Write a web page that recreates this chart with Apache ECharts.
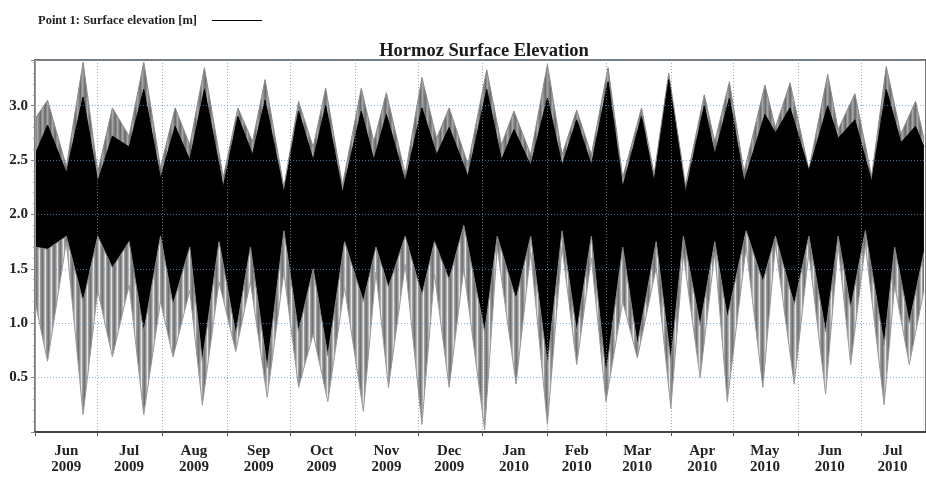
<!DOCTYPE html>
<html>
<head>
<meta charset="utf-8">
<script src="https://cdn.jsdelivr.net/npm/echarts@6/dist/echarts.min.js"></script>
<style>
  html, body { margin: 0; padding: 0; background: #fff; }
  #chart { width: 926px; height: 479px; }
</style>
</head>
<body>
<div id="chart"></div>
<script>
// envelope of the surface elevation record (m)
const upperDates = ['2009-06-01','2009-06-07','2009-06-16','2009-06-24','2009-07-01','2009-07-08','2009-07-16','2009-07-23','2009-07-31','2009-08-07','2009-08-14','2009-08-21','2009-08-30','2009-09-06','2009-09-13','2009-09-19','2009-09-28','2009-10-05','2009-10-12','2009-10-18','2009-10-26','2009-11-04','2009-11-10','2009-11-16','2009-11-25','2009-12-03','2009-12-10','2009-12-16','2009-12-25','2010-01-03','2010-01-10','2010-01-16','2010-01-24','2010-02-01','2010-02-08','2010-02-15','2010-02-22','2010-03-02','2010-03-09','2010-03-18','2010-03-24','2010-03-31','2010-04-08','2010-04-17','2010-04-22','2010-04-29','2010-05-06','2010-05-16','2010-05-21','2010-05-28','2010-06-06','2010-06-15','2010-06-20','2010-06-28','2010-07-06','2010-07-13','2010-07-20','2010-07-27','2010-07-31'];
const upperOuter = [2.88,3.05,2.44,3.40,2.39,2.98,2.72,3.40,2.43,2.98,2.64,3.35,2.34,2.98,2.67,3.24,2.25,3.04,2.62,3.16,2.27,3.16,2.67,3.12,2.37,3.26,2.70,2.98,2.46,3.33,2.64,2.95,2.55,3.38,2.55,2.96,2.55,3.35,2.34,2.98,2.37,3.30,2.27,3.10,2.67,3.22,2.39,3.19,2.80,3.21,2.41,3.29,2.78,3.11,2.35,3.36,2.74,3.04,2.70];
const upperInner = [2.55,2.82,2.38,3.08,2.30,2.72,2.62,3.15,2.33,2.81,2.50,3.15,2.25,2.90,2.55,3.05,2.20,2.95,2.50,3.00,2.20,2.95,2.50,2.92,2.30,2.98,2.55,2.80,2.35,3.15,2.50,2.78,2.45,3.07,2.45,2.87,2.45,3.22,2.25,2.90,2.30,3.24,2.20,3.00,2.55,3.07,2.30,2.92,2.75,2.98,2.40,3.00,2.70,2.87,2.30,3.15,2.66,2.81,2.62];

const lowerDates = ['2009-06-01','2009-06-07','2009-06-16','2009-06-24','2009-07-01','2009-07-08','2009-07-16','2009-07-23','2009-07-31','2009-08-06','2009-08-14','2009-08-20','2009-08-28','2009-09-05','2009-09-12','2009-09-20','2009-09-28','2009-10-05','2009-10-12','2009-10-19','2009-10-27','2009-11-05','2009-11-11','2009-11-17','2009-11-25','2009-12-03','2009-12-09','2009-12-16','2009-12-23','2010-01-02','2010-01-08','2010-01-17','2010-01-24','2010-02-01','2010-02-08','2010-02-15','2010-02-22','2010-03-01','2010-03-09','2010-03-16','2010-03-25','2010-04-01','2010-04-07','2010-04-15','2010-04-22','2010-04-28','2010-05-07','2010-05-15','2010-05-21','2010-05-30','2010-06-06','2010-06-14','2010-06-20','2010-06-26','2010-07-03','2010-07-12','2010-07-17','2010-07-24','2010-07-31'];
const lowerOuter = [1.20,0.65,1.75,0.16,1.30,0.69,1.35,0.16,1.20,0.69,1.30,0.25,1.38,0.74,1.38,0.32,1.47,0.41,0.90,0.28,1.33,0.19,1.47,0.41,1.54,0.07,1.45,0.41,1.50,0.02,1.70,0.44,1.65,0.07,1.70,0.62,1.60,0.28,1.20,0.68,1.51,0.22,1.63,0.50,1.65,0.28,1.70,0.41,1.72,0.44,1.65,0.35,1.72,0.62,1.72,0.25,1.35,0.62,1.30];
const lowerInner = [1.70,1.68,1.80,1.20,1.80,1.51,1.75,0.92,1.80,1.17,1.70,0.65,1.75,0.90,1.70,0.59,1.85,0.92,1.50,0.70,1.75,1.20,1.70,1.33,1.80,1.26,1.75,1.40,1.90,0.92,1.80,1.22,1.80,0.62,1.85,0.92,1.80,0.53,1.70,0.80,1.75,0.65,1.80,0.98,1.75,1.05,1.85,1.38,1.80,1.17,1.80,0.92,1.80,1.14,1.85,0.80,1.70,1.00,1.65];

const monthStarts = ['2009-06-01','2009-07-01','2009-08-01','2009-09-01','2009-10-01','2009-11-01','2009-12-01','2010-01-01','2010-02-01','2010-03-01','2010-04-01','2010-05-01','2010-06-01','2010-07-01','2010-08-01'];
const labelDates = ['2009-06-16','2009-07-16','2009-08-16','2009-09-16','2009-10-16','2009-11-16','2009-12-16','2010-01-16','2010-02-15','2010-03-16','2010-04-16','2010-05-16','2010-06-16','2010-07-16'];
const monthLabels = ['Jun\n2009','Jul\n2009','Aug\n2009','Sep\n2009','Oct\n2009','Nov\n2009','Dec\n2009','Jan\n2010','Feb\n2010','Mar\n2010','Apr\n2010','May\n2010','Jun\n2010','Jul\n2010'];

const seriesName = 'Point 1: Surface elevation [m]';
const serif = '"Liberation Serif", "Times New Roman", serif';

// dates become plain ms numbers on a value axis
const t = s => Date.UTC(+s.slice(0, 4), +s.slice(5, 7) - 1, +s.slice(8, 10));
const pairs = (dates, vals) => dates.map((d, i) => [t(d), vals[i]]);
const labelTimes = labelDates.map(t);

// striped greys, like the dense tidal lines at the edges of the envelope
function stripes(cols) {
    const c = document.createElement('canvas');
    c.width = cols.length; c.height = 4;
    const g = c.getContext('2d');
    cols.forEach((col, i) => {
        g.fillStyle = col;
        g.fillRect(i, 0, 1, 4);
    });
    return { image: c, repeat: 'repeat' };
}
const topGrey = stripes(['#6c6c6c', '#8a8a8a', '#a8a8a8', '#8e8e8e', '#7a7a7a']);
const lowGrey = stripes(['#707070', '#8e8e8e', '#b4b4b4', '#e4e4e4', '#9c9c9c', '#848484']);

const band = (name, data, fill, line) => ({
    name: name,
    type: 'line',
    data: data,
    showSymbol: false,
    silent: true,
    lineStyle: { color: line, width: 1 },
    areaStyle: { color: fill, opacity: 1, origin: 'start' }
});

const gridLine = { show: true, lineStyle: { color: '#5f95c8', type: [1, 2], width: 1, opacity: 0.75 } };

const chart = echarts.init(document.getElementById('chart'), null, { renderer: 'canvas' });
chart.setOption({
    animation: false,
    backgroundColor: '#fff',
    title: {
        text: 'Hormoz Surface Elevation',
        left: 479, top: 37, textAlign: 'center',
        textStyle: { fontFamily: serif, fontWeight: 'bold', fontSize: 18.5, color: '#1a1a1a' }
    },
    legend: {
        left: 33, top: 9,
        align: 'right',
        itemWidth: 50, itemHeight: 1,
        data: [{ name: seriesName, icon: 'rect', itemStyle: { color: '#000' } }],
        textStyle: { fontFamily: serif, fontWeight: 'bold', fontSize: 12.5, color: '#222', padding: [0, 10, 0, 0] }
    },
    grid: {
        left: 35, right: 0, top: 60, bottom: 47,
        show: true, borderColor: '#7a7a7a', borderWidth: 2
    },
    xAxis: {
        type: 'value',
        z: 5,
        min: t(monthStarts[0]),
        max: t(monthStarts[monthStarts.length - 1]),
        axisLine: { lineStyle: { color: '#444', width: 2 } },
        axisTick: { show: true, length: 4, customValues: monthStarts.map(t), lineStyle: { color: '#555' } },
        splitLine: gridLine,
        axisLabel: {
            customValues: labelTimes,
            formatter: v => {
                const i = labelTimes.indexOf(v);
                return i >= 0 ? monthLabels[i] : '';
            },
            margin: 11,
            lineHeight: 16,
            fontFamily: serif, fontWeight: 'bold', fontSize: 15, color: '#222'
        }
    },
    yAxis: {
        type: 'value',
        z: 5,
        min: 0, max: 3.42, interval: 0.5,
        axisLine: { show: true, lineStyle: { color: '#999', width: 1 } },
        axisTick: { show: true, length: 4, lineStyle: { color: '#888' } },
        minorTick: { show: true, splitNumber: 5, length: 2, lineStyle: { color: '#999' } },
        splitLine: gridLine,
        axisLabel: {
            showMaxLabel: false,
            formatter: v => (v > 0 && Math.abs(v * 2 - Math.round(v * 2)) < 1e-6) ? v.toFixed(1) : '',
            margin: 7,
            fontFamily: serif, fontWeight: 'bold', fontSize: 15, color: '#222'
        }
    },
    series: [
        band('upper envelope', pairs(upperDates, upperOuter), topGrey, '#8a8a8a'),
        band(seriesName, pairs(upperDates, upperInner), '#000', '#000'),
        band('lower core', pairs(lowerDates, lowerInner), lowGrey, '#8a8a8a'),
        band('lower envelope', pairs(lowerDates, lowerOuter), '#fff', '#999')
    ]
});
</script>
</body>
</html>
